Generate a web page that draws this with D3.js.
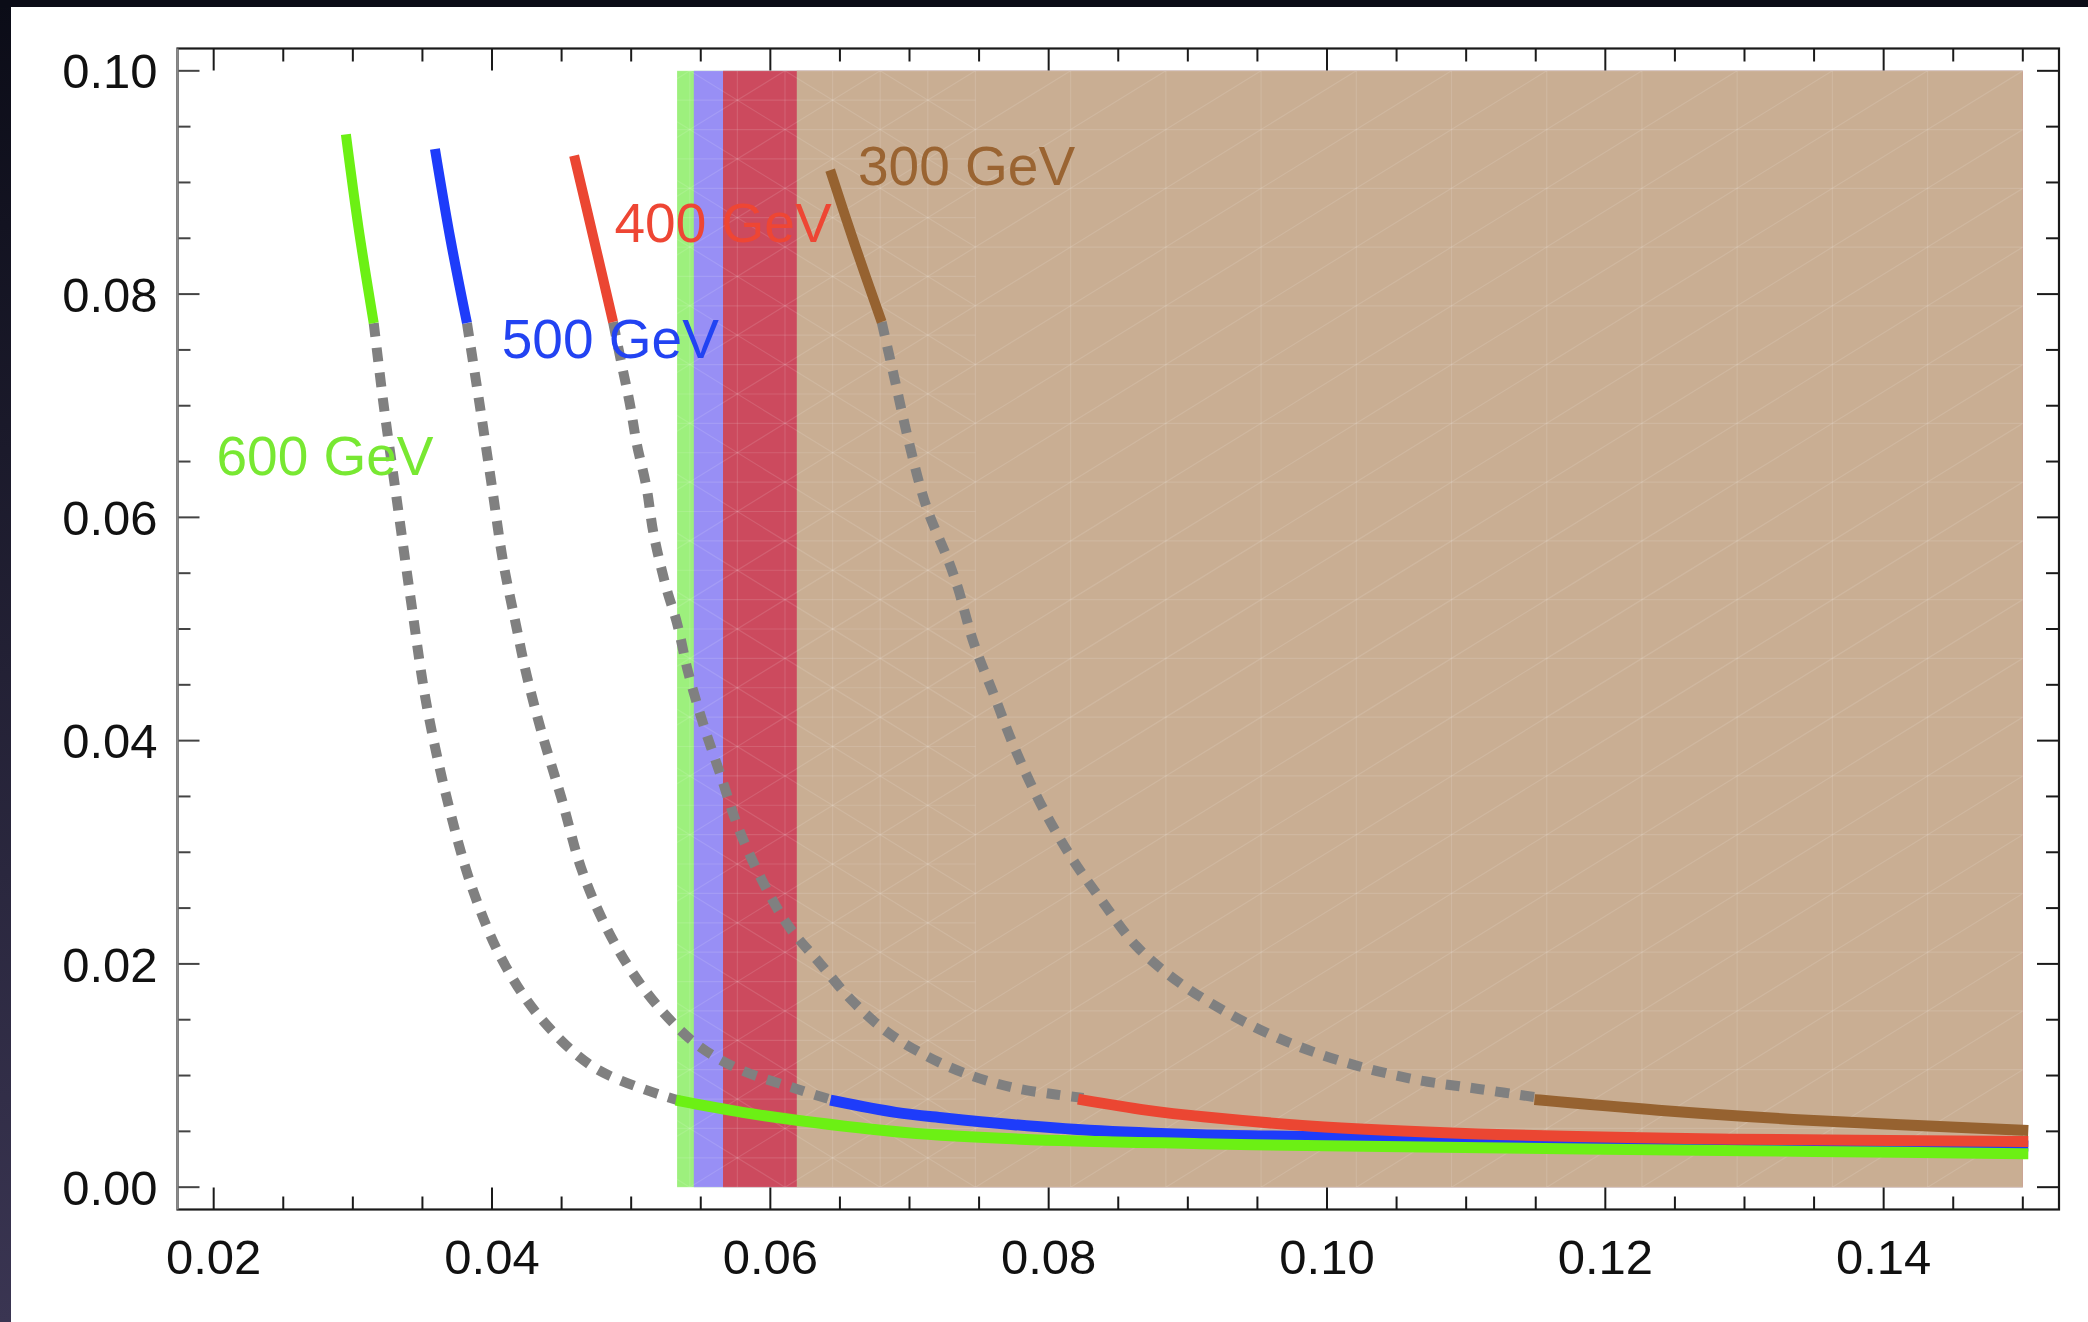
<!DOCTYPE html>
<html>
<head>
<meta charset="utf-8">
<script src="https://cdnjs.cloudflare.com/ajax/libs/d3/7.8.5/d3.min.js"></script>
<style>
  html, body { margin: 0; padding: 0; background: #fff; }
  svg { display: block; }
  text { font-family: "Liberation Sans", Arial, sans-serif; }
</style>
</head>
<body>
<div id="chart"></div>
<script>
// curves, [x, y] in plot units
var masses = ["600 GeV", "500 GeV", "400 GeV", "300 GeV"]
var lineColors = ["#6cf014", "#1e3cfa", "#eb4632", "#966230"]
var labelColors = ["#78e832", "#2243f2", "#ee4634", "#9a6432"]

var upper600 = [[0.0295, 0.0943], [0.0304, 0.0860], [0.0315, 0.0774]]
var upper500 = [[0.0359, 0.0930], [0.0370, 0.0850], [0.0382, 0.0774]]
var upper400 = [[0.0459, 0.0924], [0.0473, 0.0850], [0.0487, 0.0775]]
var upper300 = [[0.0643, 0.0911], [0.0661, 0.0843], [0.0680, 0.0775]]

var dashed600 = [[0.0315, 0.0774], [0.0322, 0.0702], [0.0331, 0.0621], [0.0342, 0.0523], [0.0353, 0.0432],
  [0.0369, 0.0341], [0.0386, 0.0267], [0.0408, 0.0202], [0.0436, 0.0150], [0.0475, 0.0106], [0.0536, 0.0077]]
var dashed500 = [[0.0382, 0.0774], [0.0391, 0.0702], [0.0400, 0.0627], [0.0408, 0.0560], [0.0417, 0.0505],
  [0.0425, 0.0458], [0.0436, 0.0406], [0.0450, 0.0348], [0.0464, 0.0286], [0.0480, 0.0238], [0.0500, 0.0194],
  [0.0522, 0.0158], [0.0547, 0.0128], [0.0577, 0.0106], [0.0619, 0.0088], [0.0647, 0.0077]]
var dashed400 = [[0.0487, 0.0775], [0.0493, 0.0738], [0.0499, 0.0702], [0.0504, 0.0666], [0.0511, 0.0627],
  [0.0516, 0.0586], [0.0525, 0.0538], [0.0533, 0.0505], [0.0541, 0.0461], [0.0552, 0.0414], [0.0564, 0.0370],
  [0.0577, 0.0322], [0.0594, 0.0275], [0.0613, 0.0234], [0.0636, 0.0200], [0.0658, 0.0168], [0.0684, 0.0139],
  [0.0713, 0.0117], [0.0742, 0.0101], [0.0775, 0.0089], [0.0805, 0.0083], [0.0825, 0.0080]]
var dashed300 = [[0.0680, 0.0775], [0.0690, 0.0720], [0.0700, 0.0665], [0.0712, 0.0610], [0.0728, 0.0561],
  [0.0735, 0.0536], [0.0746, 0.0488], [0.0761, 0.0440], [0.0775, 0.0395], [0.0794, 0.0344], [0.0816, 0.0296],
  [0.0838, 0.0257], [0.0863, 0.0216], [0.0893, 0.0184], [0.0926, 0.0158], [0.0966, 0.0133], [0.1010, 0.0113],
  [0.1061, 0.0097], [0.1109, 0.0088], [0.1153, 0.0080]]

var lower600 = [[0.0536, 0.0077], [0.0580, 0.0067], [0.0619, 0.0060], [0.0697, 0.0049], [0.0780, 0.0043],
  [0.0909, 0.0039], [0.0998, 0.0037], [0.1200, 0.0034], [0.1350, 0.0032], [0.1500, 0.0030]]
var lower500 = [[0.0647, 0.0077], [0.0690, 0.0067], [0.0725, 0.0062], [0.0775, 0.0056], [0.0829, 0.0051],
  [0.0909, 0.0047], [0.0998, 0.0045], [0.1100, 0.0042], [0.1238, 0.0040], [0.1500, 0.0037]]
var lower400 = [[0.0825, 0.0078], [0.0870, 0.0069], [0.0911, 0.0063], [0.0998, 0.0054], [0.1129, 0.0047],
  [0.1292, 0.0043], [0.1500, 0.0041]]
var lower300 = [[0.1153, 0.0078], [0.1238, 0.0069], [0.1346, 0.0060], [0.1500, 0.0051]]

var labelAt = [[0.0202, 0.0638], [0.0407, 0.0743], [0.0488, 0.0847], [0.0663, 0.0898]]

// excluded regions, each runs from its start to the right edge
var bandStarts = [0.0533, 0.0545, 0.0566, 0.0619]
var bandColors = ["#9df07d", "#988ff5", "#cc4a5e", "#c9ae93"]
var bandEnd = 0.15
var bandTop = 0.10

var xMajor = [0.02, 0.04, 0.06, 0.08, 0.10, 0.12, 0.14]
var yMajor = [0.00, 0.02, 0.04, 0.06, 0.08, 0.10]

var W = 2088, H = 1322
var svg = d3.select("#chart").append("svg").attr("width", W).attr("height", H)

// screenshot border
var grad = svg.append("defs").append("linearGradient").attr("id", "edge")
    .attr("x1", 0).attr("y1", 0).attr("x2", 0).attr("y2", 1)
grad.append("stop").attr("offset", "0%").attr("stop-color", "#0b0c17")
grad.append("stop").attr("offset", "100%").attr("stop-color", "#3a3552")
svg.append("rect").attr("x", 0).attr("y", 0).attr("width", 11).attr("height", H).attr("fill", "url(#edge)")
svg.append("rect").attr("x", 0).attr("y", 0).attr("width", W).attr("height", 7).attr("fill", "#0b0c17")

var frame = {left: 177.5, right: 2059, top: 48.5, bottom: 1209.5}

var x = d3.scaleLinear().domain([0.0174, 0.1526]).range([frame.left, frame.right])
var y = d3.scaleLinear().domain([-0.002, 0.102]).range([frame.bottom, frame.top])

// bands
var bands = svg.append("g")
bandStarts.forEach(function(s, i) {
  bands.append("rect")
    .attr("x", x(s)).attr("y", y(bandTop))
    .attr("width", x(bandEnd) - x(s)).attr("height", y(0) - y(bandTop))
    .attr("fill", bandColors[i])
})

// faint plotting mesh on the bands
svg.append("clipPath").attr("id", "bandclip").append("rect")
  .attr("x", x(bandStarts[0])).attr("y", y(bandTop))
  .attr("width", x(bandEnd) - x(bandStarts[0])).attr("height", y(0) - y(bandTop))
var mesh = svg.append("g").attr("clip-path", "url(#bandclip)")
  .attr("stroke", "#fff").attr("stroke-opacity", 0.12).attr("stroke-width", 1.2).attr("fill", "none")
var nMesh = 19
var mx = d3.range(nMesh + 1).map(function(k) { return 0.02 + k * (bandEnd - 0.02) / nMesh })
var my = d3.range(nMesh + 1).map(function(k) { return k * bandTop / nMesh })
mx.forEach(function(v) {
  mesh.append("line").attr("x1", x(v)).attr("x2", x(v)).attr("y1", y(0)).attr("y2", y(bandTop))
})
my.forEach(function(v) {
  mesh.append("line").attr("x1", x(bandStarts[0])).attr("x2", x(bandEnd)).attr("y1", y(v)).attr("y2", y(v))
})
for (var i = 0; i < nMesh; i++) {
  for (var j = 0; j < nMesh; j++) {
    mesh.append("line")
      .attr("x1", x(mx[i])).attr("y1", y(my[j]))
      .attr("x2", x(mx[i + 1])).attr("y2", y(my[j + 1]))
  }
}
// finer mesh close to the band edges
var fine = mesh.append("g")
for (var i = 4; i < 8; i++) {
  for (var j = 0; j < nMesh; j++) {
    var xm = (mx[i] + mx[i + 1]) / 2, ym = (my[j] + my[j + 1]) / 2
    fine.append("line").attr("x1", x(mx[i])).attr("x2", x(mx[i + 1])).attr("y1", y(ym)).attr("y2", y(ym))
    fine.append("line").attr("x1", x(mx[i])).attr("y1", y(my[j + 1])).attr("x2", x(mx[i + 1])).attr("y2", y(my[j]))
    fine.append("line").attr("x1", x(xm)).attr("x2", x(xm)).attr("y1", y(my[j])).attr("y2", y(my[j + 1]))
  }
}

var line = d3.line()
  .x(function(d) { return x(d[0]) })
  .y(function(d) { return y(d[1]) })
  .curve(d3.curveCatmullRom.alpha(0.5))

var uppers = [upper600, upper500, upper400, upper300]
var dasheds = [dashed600, dashed500, dashed400, dashed300]
var lowers = [lower600, lower500, lower400, lower300]

// gray dashed connecting parts
dasheds.forEach(function(d) {
  svg.append("path").attr("d", line(d))
    .attr("fill", "none").attr("stroke", "#808080").attr("stroke-width", 10)
    .attr("stroke-dasharray", "14 11")
})

uppers.forEach(function(d, i) {
  svg.append("path").attr("d", line(d))
    .attr("fill", "none").attr("stroke", lineColors[i]).attr("stroke-width", 10)
})

// lower branches: brown, blue, red, green so green/red end on top
;[3, 1, 2, 0].forEach(function(i) {
  svg.append("path").attr("d", line(lowers[i]))
    .attr("fill", "none").attr("stroke", lineColors[i]).attr("stroke-width", 11)
    .attr("stroke-linecap", "square")
})

// labels
masses.forEach(function(m, i) {
  svg.append("text")
    .attr("x", x(labelAt[i][0])).attr("y", y(labelAt[i][1]))
    .attr("fill", labelColors[i])
    .style("font-size", "55px")
    .text(m)
})

// frame and ticks
var axisColor = "#1a1a1a"
var xMinor = d3.range(0, 27).map(function(k) { return +(0.02 + k * 0.005).toFixed(3) })
var yMinor = d3.range(0, 21).map(function(k) { return +(k * 0.005).toFixed(3) })
function isMajor(v, list) { return list.some(function(m) { return Math.abs(m - v) < 1e-9 }) }

var ticks = svg.append("g").attr("stroke", axisColor).attr("stroke-width", 2)
xMinor.forEach(function(v) {
  var len = isMajor(v, xMajor) ? 22 : 13
  ticks.append("line").attr("x1", x(v)).attr("x2", x(v)).attr("y1", frame.bottom).attr("y2", frame.bottom - len)
  ticks.append("line").attr("x1", x(v)).attr("x2", x(v)).attr("y1", frame.top).attr("y2", frame.top + len)
})
yMinor.forEach(function(v) {
  var len = isMajor(v, yMajor) ? 22 : 13
  ticks.append("line").attr("x1", frame.left).attr("x2", frame.left + len).attr("y1", y(v)).attr("y2", y(v))
    .attr("stroke", "#444")
  ticks.append("line").attr("x1", frame.right).attr("x2", frame.right - len).attr("y1", y(v)).attr("y2", y(v))
})

svg.append("rect")
  .attr("x", frame.left).attr("y", frame.top)
  .attr("width", frame.right - frame.left).attr("height", frame.bottom - frame.top)
  .attr("fill", "none").attr("stroke", axisColor).attr("stroke-width", 2.2)
svg.append("line")
  .attr("x1", frame.left).attr("x2", frame.left).attr("y1", frame.top).attr("y2", frame.bottom)
  .attr("stroke", "#8a8a8a").attr("stroke-width", 2.2)

var fmt = d3.format(".2f")
xMajor.forEach(function(v) {
  svg.append("text").attr("x", x(v)).attr("y", frame.bottom + 64)
    .attr("text-anchor", "middle").attr("fill", "#111").style("font-size", "49px")
    .text(fmt(v))
})
yMajor.forEach(function(v) {
  svg.append("text").attr("x", frame.left - 20).attr("y", y(v)).attr("dy", "0.36em")
    .attr("text-anchor", "end").attr("fill", "#111").style("font-size", "49px")
    .text(fmt(v))
})
</script>
</body>
</html>
